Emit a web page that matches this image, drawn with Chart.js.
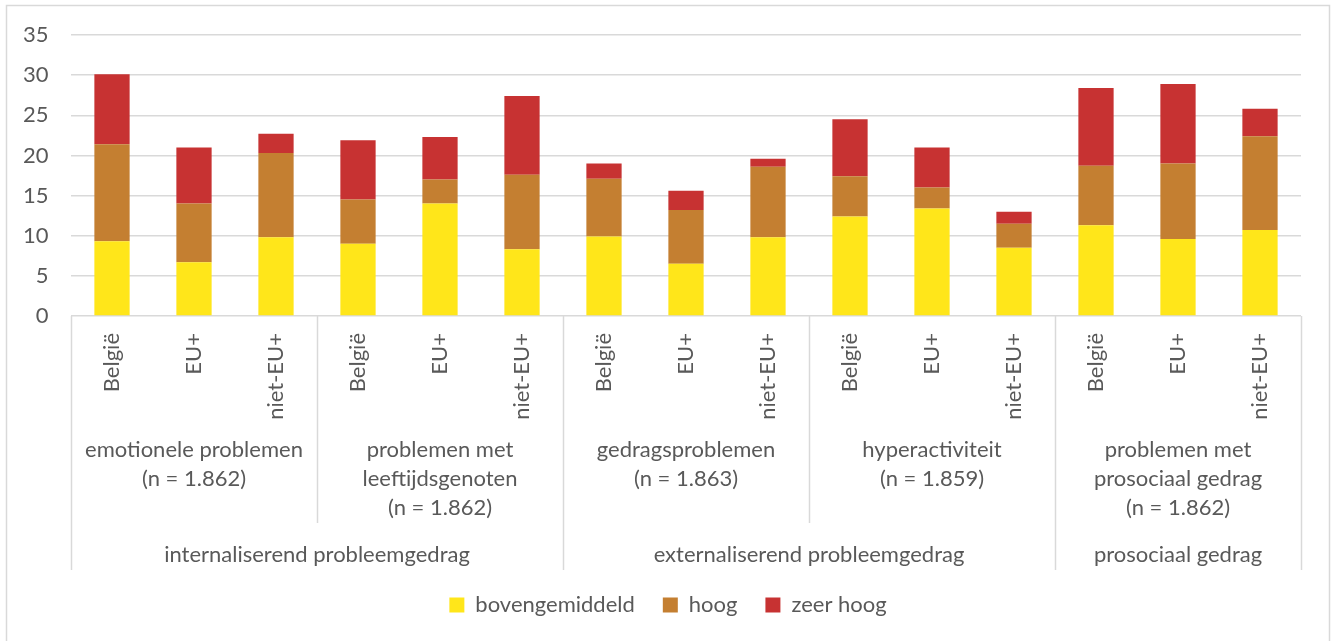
<!DOCTYPE html>
<html>
<head>
<meta charset="utf-8">
<script src="https://cdn.jsdelivr.net/npm/chart.js@4/dist/chart.umd.min.js"></script>
<style>
  html, body { margin: 0; padding: 0; background: #fff; }
  #wrap { width: 1336px; height: 641px; position: relative; }
</style>
</head>
<body>
<div id="wrap"><canvas id="chart"></canvas></div>
<script>
// categories
const herkomst = ['België', 'EU+', 'niet-EU+'];
const subschalen = [
  ['emotionele problemen', '(n = 1.862)'],
  ['problemen met', 'leeftijdsgenoten', '(n = 1.862)'],
  ['gedragsproblemen', '(n = 1.863)'],
  ['hyperactiviteit', '(n = 1.859)'],
  ['problemen met', 'prosociaal gedrag', '(n = 1.862)']
];
const hoofdgroepen = ['internaliserend probleemgedrag', 'externaliserend probleemgedrag', 'prosociaal gedrag'];
const hoofdgroepAantal = [2, 2, 1]; // subschalen per hoofdgroep

// series (%)
const bovengemiddeld = [9.3, 6.7, 9.8, 9.0, 14.0, 8.3, 9.9, 6.5, 9.8, 12.4, 13.4, 8.5, 11.3, 9.6, 10.7];
const hoog = [12.1, 7.3, 10.5, 5.5, 3.0, 9.3, 7.2, 6.7, 8.8, 5.0, 2.6, 3.0, 7.4, 9.4, 11.7];
const zeerHoog = [8.7, 7.0, 2.4, 7.4, 5.3, 9.8, 1.9, 2.4, 1.0, 7.1, 5.0, 1.5, 9.7, 9.9, 3.4];

// y ticks
const yMax = 35;
const yStep = 5;

const labels = [];
subschalen.forEach(() => herkomst.forEach(h => labels.push(h)));

const txt = '#595959';
const lijn = '#d9d9d9';
const font = 'Lato';

// extra label levels + frame
const groepLabels = {
  id: 'groepLabels',
  afterDraw(chart) {
    const ctx = chart.ctx;
    const x = chart.scales.x;
    const y0 = chart.chartArea.bottom;
    const edge = i => x.getPixelForValue(i - 0.5);
    ctx.save();
    ctx.strokeStyle = lijn;
    ctx.lineWidth = 1.5;
    // separators
    const outer = [0];
    let acc = 0;
    hoofdgroepAantal.forEach(n => { acc += n; outer.push(acc); });
    for (let s = 0; s <= subschalen.length; s++) {
      const px = Math.round(edge(s * 3)) + 0.5;
      ctx.beginPath();
      ctx.moveTo(px, y0);
      ctx.lineTo(px, outer.includes(s) ? 570 : 523);
      ctx.stroke();
    }
    ctx.fillStyle = txt;
    ctx.font = '22px ' + font;
    ctx.textAlign = 'center';
    ctx.textBaseline = 'middle';
    subschalen.forEach((regels, s) => {
      const cx = (edge(s * 3) + edge(s * 3 + 3)) / 2;
      regels.forEach((r, k) => ctx.fillText(r, cx, 450 + k * 29));
    });
    hoofdgroepen.forEach((g, k) => {
      const cx = (edge(outer[k] * 3) + edge(outer[k + 1] * 3)) / 2;
      ctx.fillText(g, cx, 555);
    });
    // chart frame
    ctx.beginPath();
    ctx.moveTo(6.5, 641);
    ctx.lineTo(6.5, 5.5);
    ctx.lineTo(1329.5, 5.5);
    ctx.lineTo(1329.5, 641);
    ctx.stroke();
    ctx.restore();
  }
};

new Chart(document.getElementById('chart'), {
  type: 'bar',
  data: {
    labels: labels,
    datasets: [
      { label: 'bovengemiddeld', data: bovengemiddeld, backgroundColor: '#FFE61A' },
      { label: 'hoog', data: hoog, backgroundColor: '#C47F31' },
      { label: 'zeer hoog', data: zeerHoog, backgroundColor: '#C73232' }
    ]
  },
  options: {
    responsive: true,
    maintainAspectRatio: false,
    animation: false,
    datasets: { bar: { categoryPercentage: 1, barPercentage: 0.43 } },
    layout: { padding: { left: 35, right: 35, top: 35, bottom: 15 } },
    plugins: {
      tooltip: { enabled: false },
      legend: {
        position: 'bottom',
        labels: {
          color: txt,
          font: { family: font, size: 22 },
          boxWidth: 15,
          boxHeight: 15,
          padding: 28
        }
      }
    },
    scales: {
      x: {
        stacked: true,
        grid: { display: false, drawTicks: false },
        border: { display: false },
        ticks: {
          color: txt,
          font: { family: font, size: 22 },
          minRotation: 90,
          maxRotation: 90,
          autoSkip: false,
          padding: 17
        },
        afterFit: s => { s.height = 250; }
      },
      y: {
        stacked: true,
        min: 0,
        max: yMax,
        grid: { color: lijn, lineWidth: 1.5, drawTicks: false },
        border: { display: false },
        ticks: {
          stepSize: yStep,
          color: txt,
          font: { family: font, size: 22 },
          // mirrored + far so labels sit left of the axis without being clipped
          mirror: true,
          crossAlign: 'far',
          padding: -48
        },
        afterFit: s => { s.width = 36; }
      }
    }
  },
  plugins: [groepLabels]
});
</script>
</body>
</html>
